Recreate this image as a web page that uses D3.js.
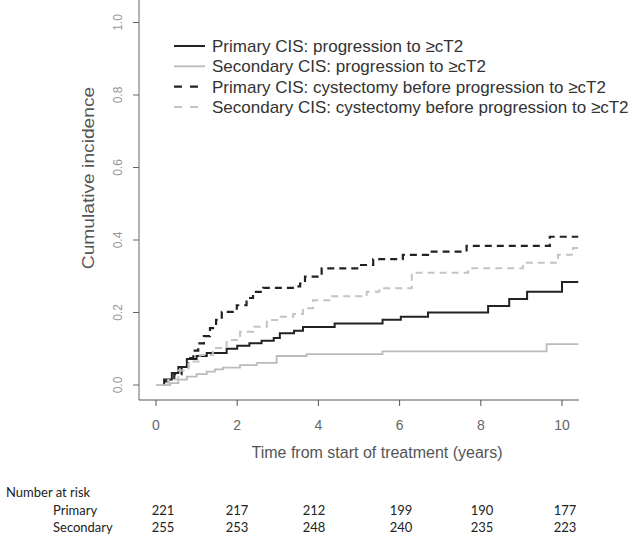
<!DOCTYPE html>
<html lang="en">
<head>
<meta charset="utf-8">
<title>Cumulative incidence</title>
<script src="https://cdn.jsdelivr.net/npm/d3@7"></script>
<style>
  body { margin: 0; background: #fff; }
  svg { display: block; }
</style>
</head>
<body>
<script>
// step curves: time (years) and cumulative incidence
var priProgT = [0, 0.2, 0.39, 0.55, 0.76, 1.0, 1.25, 1.74, 2.0, 2.3, 2.6, 2.9, 3.05, 3.4, 3.62, 4.4, 5.58, 6.03, 6.7, 8.18, 8.7, 9.14, 10.0, 10.4];
var priProgV = [0, 0.015, 0.033, 0.05, 0.072, 0.08, 0.088, 0.10, 0.108, 0.115, 0.122, 0.13, 0.143, 0.15, 0.16, 0.17, 0.18, 0.188, 0.20, 0.218, 0.237, 0.257, 0.284, 0.284];

var secProgT = [0, 0.35, 0.55, 0.76, 1.0, 1.25, 1.45, 1.65, 2.07, 2.48, 2.97, 3.71, 5.58, 9.62, 10.4];
var secProgV = [0, 0.005, 0.015, 0.023, 0.03, 0.037, 0.043, 0.048, 0.055, 0.061, 0.08, 0.085, 0.093, 0.113, 0.113];

var priCystT = [0, 0.15, 0.3, 0.45, 0.63, 0.79, 0.92, 1.04, 1.18, 1.33, 1.48, 1.62, 1.99, 2.23, 2.39, 2.64, 3.37, 3.55, 3.67, 4.08, 5.02, 5.35, 6.08, 6.7, 7.65, 9.7, 10.4];
var priCystV = [0, 0.01, 0.015, 0.03, 0.05, 0.074, 0.095, 0.115, 0.135, 0.157, 0.18, 0.202, 0.22, 0.24, 0.257, 0.268, 0.272, 0.28, 0.299, 0.322, 0.331, 0.347, 0.359, 0.368, 0.384, 0.409, 0.409];

var secCystT = [0, 0.3, 0.55, 0.8, 1.08, 1.4, 1.74, 2.07, 2.39, 2.73, 3.05, 3.38, 3.62, 3.87, 4.3, 5.19, 5.5, 6.3, 7.69, 9.04, 9.9, 10.27, 10.4];
var secCystV = [0, 0.015, 0.04, 0.065, 0.083, 0.102, 0.124, 0.147, 0.161, 0.179, 0.188, 0.196, 0.212, 0.234, 0.245, 0.257, 0.267, 0.31, 0.322, 0.337, 0.359, 0.378, 0.378];

var seriesNames = ["Primary CIS: progression to \u2265cT2",
                   "Secondary CIS: progression to \u2265cT2",
                   "Primary CIS: cystectomy before progression to \u2265cT2",
                   "Secondary CIS: cystectomy before progression to \u2265cT2"];

var xTicks = [0, 2, 4, 6, 8, 10];
var yTicks = [0, 0.2, 0.4, 0.6, 0.8, 1.0];

var riskGroups = ["Primary", "Secondary"];
var riskPrimary = [221, 217, 212, 199, 190, 177];
var riskSecondary = [255, 253, 248, 240, 235, 223];

var w = 632, h = 541;
var font = "Liberation Sans, Arial, sans-serif";

var svg = d3.select("body").append("svg")
  .attr("width", w)
  .attr("height", h);

var x = d3.scaleLinear().domain([0, 10]).range([156, 562]);
var y = d3.scaleLinear().domain([0, 1]).range([385, 22.5]);

// axes lines (bty = "l")
svg.append("line")
  .attr("x1", 139).attr("x2", 139)
  .attr("y1", 0).attr("y2", 400)
  .attr("stroke", "#666").attr("stroke-width", 1);
svg.append("line")
  .attr("x1", 139).attr("x2", 579)
  .attr("y1", 400).attr("y2", 400)
  .attr("stroke", "#555").attr("stroke-width", 1.2);

// y ticks
svg.selectAll(".ytick")
  .data(yTicks)
  .enter()
  .append("line")
  .attr("x1", 133).attr("x2", 139)
  .attr("y1", function(d) { return y(d); })
  .attr("y2", function(d) { return y(d); })
  .attr("stroke", "#666");

svg.selectAll(".ylab")
  .data(yTicks)
  .enter()
  .append("text")
  .attr("transform", function(d) { return "translate(122," + y(d) + ") rotate(-90)"; })
  .attr("text-anchor", "middle")
  .attr("font-family", font)
  .attr("font-size", "12px")
  .attr("fill", "#999")
  .text(function(d) { return d3.format(".1f")(d); });

// x ticks
svg.selectAll(".xtick")
  .data(xTicks)
  .enter()
  .append("line")
  .attr("x1", function(d) { return x(d); })
  .attr("x2", function(d) { return x(d); })
  .attr("y1", 400).attr("y2", 406)
  .attr("stroke", "#555");

svg.selectAll(".xlab")
  .data(xTicks)
  .enter()
  .append("text")
  .attr("x", function(d) { return x(d); })
  .attr("y", 430)
  .attr("text-anchor", "middle")
  .attr("font-family", font)
  .attr("font-size", "14px")
  .attr("fill", "#666")
  .text(function(d) { return d; });

// axis titles
svg.append("text")
  .attr("x", 377).attr("y", 458)
  .attr("text-anchor", "middle")
  .attr("font-family", font)
  .attr("font-size", "16px")
  .attr("fill", "#555")
  .text("Time from start of treatment (years)");

svg.append("text")
  .attr("transform", "translate(94,178) rotate(-90) scale(1.2,1)")
  .attr("text-anchor", "middle")
  .attr("font-family", font)
  .attr("font-size", "16px")
  .attr("fill", "#555")
  .text("Cumulative incidence");

// curves
var series = [
  { t: priProgT, v: priProgV, color: "#222", width: 2, dash: null },
  { t: secProgT, v: secProgV, color: "#bbb", width: 1.8, dash: null },
  { t: priCystT, v: priCystV, color: "#222", width: 2.2, dash: "7,5" },
  { t: secCystT, v: secCystV, color: "#c4c4c4", width: 2, dash: "7,5" }
];

var line = d3.line()
  .x(function(d) { return x(d[0]); })
  .y(function(d) { return y(d[1]); })
  .curve(d3.curveStepAfter);

svg.selectAll(".curve")
  .data(series)
  .enter()
  .append("path")
  .attr("d", function(s) { return line(d3.zip(s.t, s.v)); })
  .attr("fill", "none")
  .attr("stroke", function(s) { return s.color; })
  .attr("stroke-width", function(s) { return s.width; })
  .attr("stroke-dasharray", function(s) { return s.dash; });

// legend
var leg = svg.append("g");
leg.selectAll("line")
  .data(series)
  .enter()
  .append("line")
  .attr("x1", 174).attr("x2", 205)
  .attr("y1", function(d, i) { return 46 + i * 20.3; })
  .attr("y2", function(d, i) { return 46 + i * 20.3; })
  .attr("stroke", function(s) { return s.color; })
  .attr("stroke-width", function(s) { return s.width; })
  .attr("stroke-dasharray", function(s) { return s.dash ? "8,8" : null; });

leg.selectAll("text")
  .data(seriesNames)
  .enter()
  .append("text")
  .attr("x", 212)
  .attr("y", function(d, i) { return 52 + i * 20.3; })
  .attr("font-family", font)
  .attr("font-size", "17px")
  .attr("fill", "#333")
  .text(function(d) { return d; });

// number at risk table
var riskX = [163, 237, 314, 401, 482, 565];
var riskFont = "Lato, Open Sans, sans-serif";

svg.append("text")
  .attr("x", 6).attr("y", 497)
  .attr("font-family", riskFont)
  .attr("font-size", "13px")
  .attr("fill", "#222")
  .text("Number at risk");

[riskPrimary, riskSecondary].forEach(function(row, r) {
  var yy = 515 + r * 17;
  svg.append("text")
    .attr("x", 53).attr("y", yy)
    .attr("font-family", riskFont)
    .attr("font-size", "13px")
    .attr("fill", "#222")
    .text(riskGroups[r]);
  svg.selectAll(".risk" + r)
    .data(row)
    .enter()
    .append("text")
    .attr("x", function(d, i) { return riskX[i]; })
    .attr("y", yy)
    .attr("text-anchor", "middle")
    .attr("font-family", riskFont)
    .attr("font-size", "13px")
    .attr("fill", "#222")
    .text(function(d) { return d; });
});
</script>
</body>
</html>
